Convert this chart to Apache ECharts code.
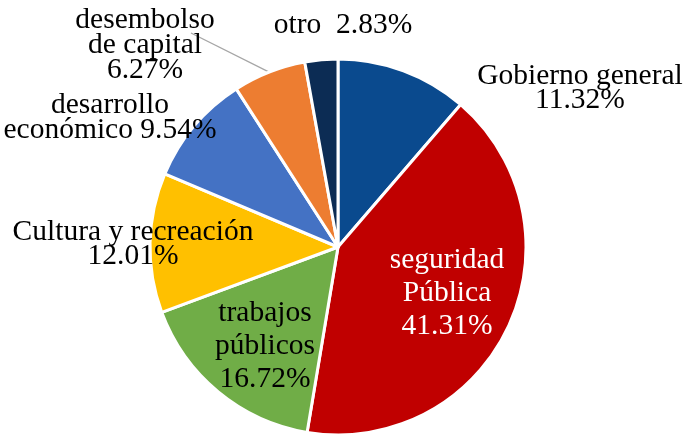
<!DOCTYPE html>
<html><head><meta charset="utf-8">
<script src="https://cdn.jsdelivr.net/npm/echarts@6/dist/echarts.min.js"></script>
<style>html,body{margin:0;padding:0;background:#fff}#c{width:687px;height:438px}</style>
</head><body><div id="c"></div>
<script>
var categories = ['Gobierno general','seguridad Pública','trabajos públicos','Cultura y recreación','desarrollo económico','desembolso de capital','otro'];
var labelText = ['Gobierno general','seguridad\nPública','trabajos\npúblicos','Cultura y recreación','desarrollo\neconómico','desembolso\nde capital','otro'];
var labelSep = ['\n','\n','\n','\n',' ','\n','  '];
var values = [11.32, 41.31, 16.72, 12.01, 9.54, 6.27, 2.83];
var colors = ['#0A4A8E','#C00000','#70AD47','#FFC000','#4472C4','#ED7D31','#0C2C54'];

// label placement (centre of each label block) and styling
var labelPos = [[580,88],[447,293],[265,346],[133,244],[110,118],[145,45],[343,25]];
var labelLH = [24,33,33,24,25,25,24];
var labelColor = ['#000','#fff','#000','#000','#000','#000','#000'];
var leaderEnd = [191,33];

var data = values.map(function(v,i){
  return {
    name: categories[i], value: v,
    itemStyle: {color: colors[i]},
    label: {color: labelColor[i], lineHeight: labelLH[i]},
    labelLine: {show: i === 5, lineStyle: {color: '#A6A6A6', width: 1.3}, length: 10, length2: 10}
  };
});

var chart = echarts.init(document.getElementById('c'));
chart.setOption({
  animation: false,
  series: [{
    type: 'pie',
    center: [338, 247],
    radius: 188,
    startAngle: 90,
    clockwise: true,
    avoidLabelOverlap: false,
    itemStyle: {borderColor: '#fff', borderWidth: 3},
    label: {
      show: true,
      position: 'outside',
      fontFamily: 'Liberation Serif',
      fontSize: 29.5,
      align: 'center',
      formatter: function(p){ return labelText[p.dataIndex] + labelSep[p.dataIndex] + values[p.dataIndex].toFixed(2) + '%'; }
    },
    labelLayout: function(p){
      var pos = labelPos[p.dataIndex];
      var o = {x: pos[0], y: pos[1], align: 'center', verticalAlign: 'middle', hideOverlap: false};
      if (p.dataIndex === 5 && p.labelLinePoints) {
        var a = p.labelLinePoints[0];
        o.labelLinePoints = [a, a, leaderEnd];
      }
      return o;
    },
    data: data
  }]
});
</script></body></html>
